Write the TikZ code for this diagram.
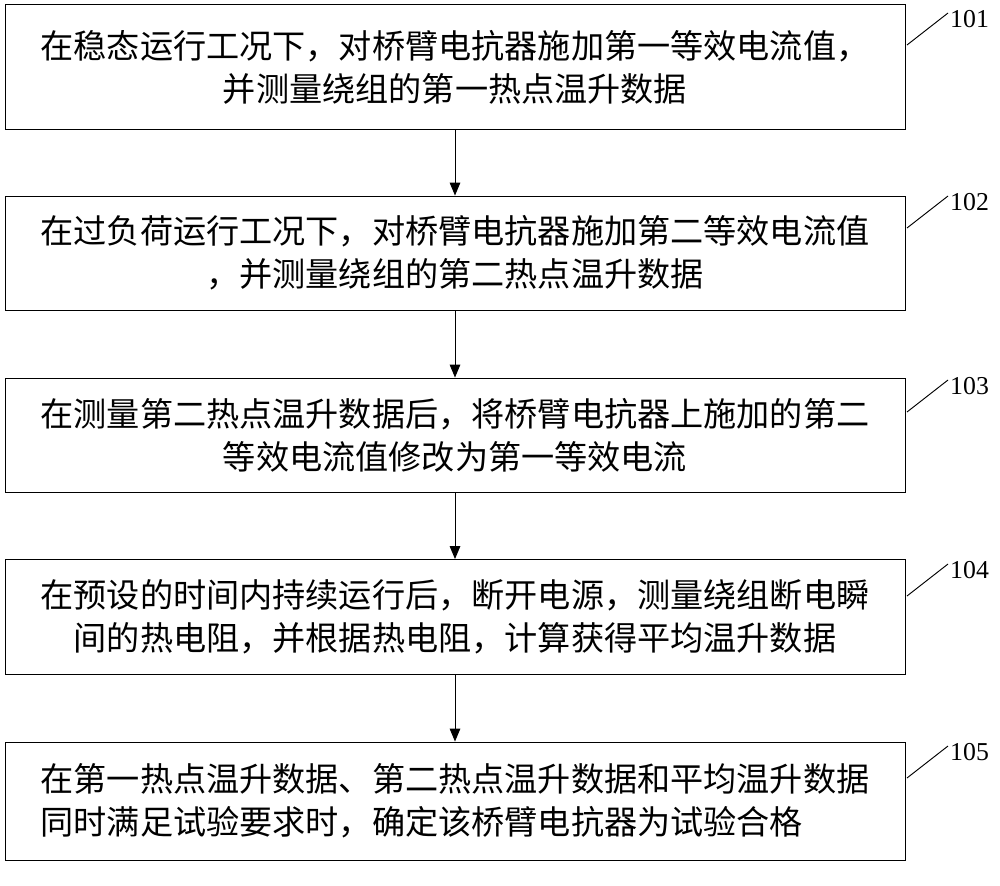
\documentclass[tikz,border=0pt]{standalone}
\usepackage{fontspec}
\setmainfont{Liberation Serif}
\newfontfamily\cjk{Noto Sans CJK SC}
\usetikzlibrary{arrows.meta}
\begin{document}
\begin{tikzpicture}[x=0.03cm,y=-0.03cm,
 box/.style={draw,line width=0.8pt,minimum width=900*0.03cm,inner sep=0pt,font=\cjk\fontsize{28.3}{36.6}\selectfont},
 arr/.style={-{Triangle[length=11pt,width=9pt]},line width=0.8pt},
 lbl/.style={font=\fontsize{22}{24}\selectfont,anchor=west,inner sep=0pt}]
\useasboundingbox (0,0) rectangle (1000,885);
\node[box,minimum height=125*0.03cm,align=center] (b1) at (455,67) {在稳态运行工况下，对桥臂电抗器施加第一等效电流值，\\并测量绕组的第一热点温升数据};
\node[box,minimum height=114*0.03cm,align=center] (b2) at (455,253) {在过负荷运行工况下，对桥臂电抗器施加第二等效电流值\\，并测量绕组的第二热点温升数据};
\node[box,minimum height=114*0.03cm,align=center] (b3) at (455,435) {在测量第二热点温升数据后，将桥臂电抗器上施加的第二\\等效电流值修改为第一等效电流};
\node[box,minimum height=115*0.03cm,align=center] (b4) at (455,617) {在预设的时间内持续运行后，断开电源，测量绕组断电瞬\\间的热电阻，并根据热电阻，计算获得平均温升数据};
\node[box,minimum height=118*0.03cm,align=left] (b5) at (455,801) {在第一热点温升数据、第二热点温升数据和平均温升数据\\同时满足试验要求时，确定该桥臂电抗器为试验合格};
\draw[arr] (b1) -- (b2);
\draw[arr] (b2) -- (b3);
\draw[arr] (b3) -- (b4);
\draw[arr] (b4) -- (b5);
\foreach \n/\y/\t in {1/45/101,2/228/102,3/412/103,4/596/104,5/778/105}{
 \coordinate (s\n) at (907,\y);
 \coordinate (e\n) at (948,\y-32);
 \draw[line width=0.8pt] (s\n) -- (e\n);
 \node[lbl] (l\n) at (950,\y-26) {\t};
}
\end{tikzpicture}
\end{document}
